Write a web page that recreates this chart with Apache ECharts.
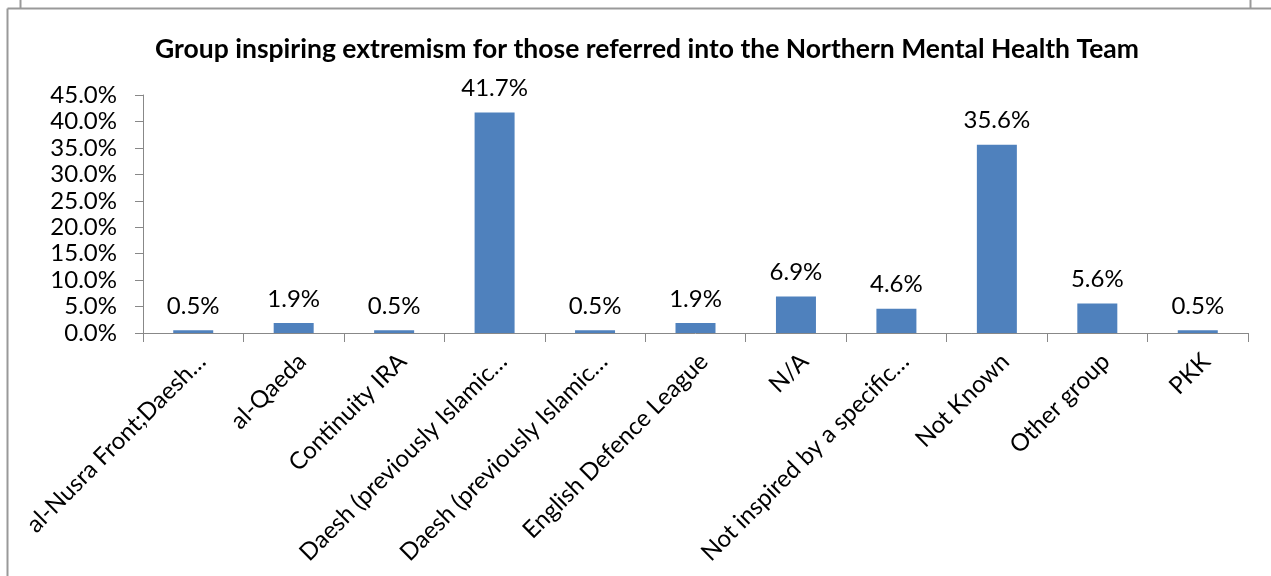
<!DOCTYPE html>
<html>
<head>
<meta charset="utf-8">
<script src="https://cdn.jsdelivr.net/npm/echarts@6/dist/echarts.min.js"></script>
<style>
html,body{margin:0;padding:0;background:#fff;}
#c{width:1271px;height:576px;}
</style>
</head>
<body>
<div id="c"></div>
<script>
var titleText = 'Group inspiring extremism for those referred into the Northern Mental Health Team';
var categories = ['al-Nusra Front;Daesh…', 'al-Qaeda', 'Continuity IRA', 'Daesh (previously Islamic…', 'Daesh (previously Islamic…', 'English Defence League', 'N/A', 'Not inspired by a specific…', 'Not Known', 'Other group', 'PKK'];
var values = [0.5, 1.9, 0.5, 41.7, 0.5, 1.9, 6.9, 4.6, 35.6, 5.6, 0.5];
var yTicks = [0, 5, 10, 15, 20, 25, 30, 35, 40, 45];

var FONT = 'Lato';
var chart = echarts.init(document.getElementById('c'), null, {renderer: 'canvas'});
chart.setOption({
  animation: false,
  backgroundColor: '#fff',
  title: {
    text: titleText,
    left: 642, top: 31, textAlign: 'center',
    textStyle: {fontFamily: FONT, fontWeight: 'bold', fontSize: 26.5, color: '#000'}
  },
  grid: {left: 143, right: 23, top: 95, bottom: 243, containLabel: false},
  xAxis: {
    type: 'category',
    data: categories,
    axisLine: {lineStyle: {color: '#888888', width: 1}},
    axisTick: {show: true, alignWithLabel: false, length: 9, lineStyle: {color: '#888888'}},
    axisLabel: {interval: 0, rotate: 45, verticalAlign: 'top', fontFamily: FONT, fontSize: 24, color: '#000', margin: 16}
  },
  yAxis: {
    type: 'value',
    min: yTicks[0], max: yTicks[yTicks.length - 1], interval: 5,
    axisLine: {show: true, lineStyle: {color: '#888888', width: 1}},
    axisTick: {show: true, length: 8, lineStyle: {color: '#888888'}},
    splitLine: {show: false},
    axisLabel: {fontFamily: FONT, fontSize: 24, color: '#000', margin: 26,
      formatter: function (v) { return v.toFixed(1) + '%'; }}
  },
  series: [{
    type: 'bar',
    data: values,
    barWidth: 40,
    itemStyle: {color: '#4F81BD'},
    label: {show: true, position: 'top', distance: 12, fontFamily: FONT, fontSize: 24, color: '#000',
      formatter: function (p) { return p.value.toFixed(1) + '%'; }}
  }],
  graphic: [
    {type: 'line', shape: {x1: 7.5, y1: 8.5, x2: 1271, y2: 8.5}, style: {stroke: '#999', lineWidth: 2}},
    {type: 'line', shape: {x1: 7.5, y1: 8.5, x2: 7.5, y2: 576}, style: {stroke: '#999', lineWidth: 2}},
    {type: 'line', shape: {x1: 20.5, y1: 0, x2: 20.5, y2: 8}, style: {stroke: '#999', lineWidth: 2}},
    {type: 'line', shape: {x1: 1250.5, y1: 0, x2: 1250.5, y2: 8}, style: {stroke: '#999', lineWidth: 2}}
  ]
});
</script>
</body>
</html>
